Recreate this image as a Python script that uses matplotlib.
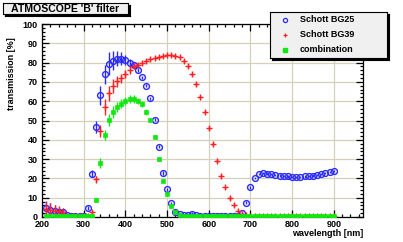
import numpy as np
import matplotlib
matplotlib.use("Agg")
import matplotlib.pyplot as plt
from matplotlib.ticker import MultipleLocator

plt.rcParams['font.family'] = ['Liberation Sans', 'DejaVu Sans']
plt.rcParams['font.weight'] = 'bold'

# wavelength grid [nm]
wl = np.arange(210, 901, 10)

bg25 = [4.5, 3.5, 3, 2.5, 2.5, 1, 0.5, 0.5, 0.5, 0.5,
        4.5, 22.5, 46.5, 63, 74, 79.5, 81, 82, 82, 81.5,
        80, 78.5, 76, 72.5, 68, 61.5, 50.5, 36.3, 22.8, 14.3,
        7.2, 2.8, 1.4, 1, 1.2, 1.8, 1.2, 0.5, 0.3, 0.3,
        0.3, 0.3, 0.3, 0.3, 0.3, 0.3, 0.5, 2, 7.5, 15.3,
        20.3, 22.2, 22.7, 22.5, 22.2, 21.8, 21.5, 21.2, 21, 20.9,
        20.9, 20.9, 21, 21.2, 21.5, 21.8, 22.2, 22.7, 23.2, 23.9]
bg25_err = [4, 3.5, 3, 2.5, 2, 0.8, 0.5, 0.5, 0.5, 0.5,
            1, 2, 3, 5, 5, 6, 5, 4, 3.5, 2.5,
            2, 1.5, 1, 0.8, 0.8, 0.8, 0.8, 0.8, 0.8, 0.8,
            0.6, 0.6, 0.6, 0.6, 0.6, 0.6, 0.6, 0.6, 0.6, 0.6,
            0.6, 0.6, 0.6, 0.6, 0.6, 0.6, 0.6, 0.6, 0.6, 0.6,
            0.6, 0.6, 0.6, 0.6, 0.6, 0.6, 0.6, 0.6, 0.6, 0.6,
            0.6, 0.6, 0.6, 0.6, 0.6, 0.6, 0.6, 0.6, 0.6, 0.6]

bg39 = [4, 3.5, 3, 3, 2.5, 0.7, 0.5, 0.5, 0.5, 0.5,
        0.5, 2.4, 19.5, 44.7, 57, 64, 67.8, 70.3, 71.8, 74,
        76.2, 78.2, 79, 80, 81, 81.7, 82.5, 83.1, 83.5, 84,
        84, 83.6, 82.7, 80.8, 78.1, 74, 68.9, 62.3, 54.6, 46.2,
        37.7, 29, 21.3, 15.3, 10, 6, 3.2, 1.8, 1, 0.3,
        0.3, 0.3, 0.3, 0.3, 0.3, 0.3, 0.3, 0.3, 0.3, 0.3,
        0.3, 0.3, 0.3, 0.3, 0.3, 0.3, 0.3, 0.3, 0.3, 0.3]
bg39_err = [4, 3.5, 3, 2.5, 2, 0.5, 0.5, 0.5, 0.5, 0.5,
            0.5, 1, 2, 3, 4.3, 4, 3.5, 3, 2.5, 2,
            2, 1.5, 1, 1, 1, 1, 1, 1, 1, 1,
            1, 1, 1, 1, 1, 1, 1, 1, 1, 1,
            1, 1, 1, 1, 1, 1, 0.8, 0.6, 0.5, 0.5,
            0.5, 0.5, 0.5, 0.5, 0.5, 0.5, 0.5, 0.5, 0.5, 0.5,
            0.5, 0.5, 0.5, 0.5, 0.5, 0.5, 0.5, 0.5, 0.5, 0.5]

comb = [0.3, 0.3, 0.3, 0.3, 0.3, 0.3, 0.3, 0.3, 0.3, 0.3,
        0.3, 0.5, 9, 28, 42.5, 50.2, 54.5, 57.1, 58.8, 60.2,
        61.1, 61.1, 60.2, 58.5, 54.5, 50.5, 41.7, 29.8, 18.7, 11.8,
        5.9, 2.5, 1, 0.4, 0.4, 0.4, 0.4, 0.4, 0.4, 0.4,
        0.4, 0.4, 0.4, 0.4, 0.4, 0.4, 0.4, 0.4, 0.4, 0.4,
        0.4, 0.4, 0.4, 0.4, 0.4, 0.4, 0.4, 0.4, 0.4, 0.4,
        0.4, 0.4, 0.4, 0.4, 0.4, 0.4, 0.4, 0.4, 0.4, 0.4]
comb_err = [0.8, 0.8, 0.8, 0.8, 0.8, 0.8, 0.8, 0.8, 0.8, 0.8,
            0.8, 0.8, 1, 2.5, 2.6, 3, 3, 2.5, 2.5, 2,
            2, 2, 1.5, 1.5, 1.5, 1, 1, 0.8, 0.8, 0.8,
            0.7, 0.7, 0.7, 0.7, 0.7, 0.7, 0.7, 0.7, 0.7, 0.7,
            0.7, 0.7, 0.7, 0.7, 0.7, 0.7, 0.7, 0.7, 0.7, 0.7,
            0.7, 0.7, 0.7, 0.7, 0.7, 0.7, 0.7, 0.7, 0.7, 0.7,
            0.7, 0.7, 0.7, 0.7, 0.7, 0.7, 0.7, 0.7, 0.7, 0.7]

labels = ['Schott BG25', 'Schott BG39', 'combination']
c_blue, c_red, c_green = '#2a2aff', '#ff2020', '#10e810'

W, H = 403, 242
fig = plt.figure(figsize=(W / 100, H / 100), dpi=100)
fig.patch.set_facecolor('white')

def box(x0, y0, x1, y1):
    # pixel box (top-left origin) -> figure fraction rect
    return [x0 / W, 1 - y1 / H, (x1 - x0) / W, (y1 - y0) / H]

ax = fig.add_axes(box(42, 24, 363, 217))
ax.errorbar(wl, bg25, yerr=bg25_err, fmt='o', ms=4.2, mfc='none', mec=c_blue,
            mew=1.0, ecolor=c_blue, elinewidth=1, capsize=0, zorder=3)
ax.errorbar(wl, bg39, yerr=bg39_err, fmt='+', ms=4.5, mec=c_red,
            mew=1.0, ecolor=c_red, elinewidth=1, capsize=0, zorder=4)
ax.errorbar(wl, comb, yerr=comb_err, fmt='s', ms=3.5, mfc=c_green, mec=c_green,
            mew=0.5, ecolor=c_green, elinewidth=1, capsize=0, zorder=5)

ax.set_xlim(200, 970)
ax.set_ylim(0, 100)
ax.xaxis.set_minor_locator(MultipleLocator(20))
ax.yaxis.set_major_locator(MultipleLocator(10))
ax.yaxis.set_minor_locator(MultipleLocator(2))
ax.set_xticks([200, 300, 400, 500, 600, 700, 800, 900])
ax.grid(True, which='major', color='#d4d0bc', lw=0.9, zorder=0)
ax.set_axisbelow(True)
ax.tick_params(which='both', direction='in', top=True, right=True, width=0.9,
               labelsize=6.5, colors='black')
ax.tick_params(axis='x', pad=2)
ax.tick_params(axis='y', pad=3)
ax.tick_params(which='major', length=5)
ax.tick_params(which='minor', length=2.5)
for lab in ax.get_xticklabels() + ax.get_yticklabels():
    lab.set_fontweight('bold')
for s in ax.spines.values():
    s.set_linewidth(0.9)

fig.text(12 / W, 1 - 37 / H, 'transmission [%]', rotation=90, ha='center',
         va='top', fontsize=6.5, fontweight='bold')
fig.text(363 / W, 1 - 234 / H, 'wavelength [nm]', ha='right', va='center',
         fontsize=6.5, fontweight='bold')

# title box with shadow
sh = fig.add_axes(box(5, 5, 130, 16))
sh.set_facecolor('black')
sh.set_xticks([]); sh.set_yticks([])
tb = fig.add_axes(box(3, 3, 128, 14))
tb.set_facecolor('#f0f0f0')
tb.set_xticks([]); tb.set_yticks([])
for s in tb.spines.values():
    s.set_linewidth(0.8)
tb.text(0.5, 0.5, "ATMOSCOPE 'B' filter", ha='center', va='center',
        fontsize=7.6, fontweight='bold', transform=tb.transAxes)

# legend box with shadow
lsh = fig.add_axes(box(272, 14, 389, 60))
lsh.set_facecolor('black')
lsh.set_xticks([]); lsh.set_yticks([])
lg = fig.add_axes(box(270, 12, 387, 58))
lg.set_facecolor('#f0f0f0')
lg.set_xticks([]); lg.set_yticks([])
lg.set_xlim(0, 117)
lg.set_ylim(46, 0)
for s in lg.spines.values():
    s.set_linewidth(0.8)
rows = [7.5, 22.5, 38]
lg.plot(15, rows[0], 'o', ms=3.0, mfc='none', mec=c_blue, mew=0.9)
lg.plot(15, rows[1], '+', ms=3.5, mec=c_red, mew=0.9)
lg.plot(15, rows[2], 's', ms=2.6, mfc=c_green, mec=c_green)
for r, t in zip(rows, labels):
    lg.text(30, r, t, ha='left', va='center', fontsize=6.5, fontweight='bold')

fig.savefig('out.png', dpi=100)
